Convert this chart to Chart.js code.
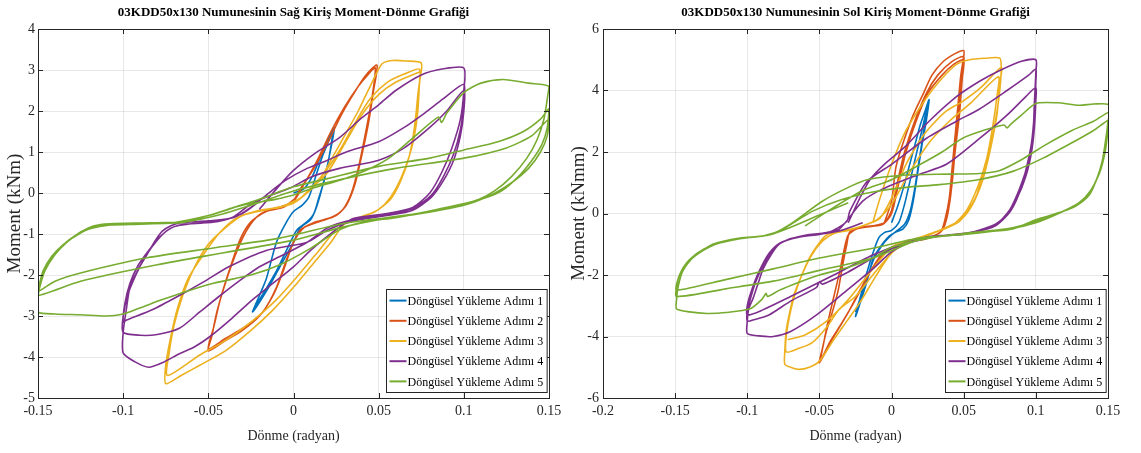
<!DOCTYPE html>
<html lang="tr">
<head>
<meta charset="UTF-8">
<title>03KDD50x130 Moment-Dönme Grafikleri</title>
<script src="https://cdn.jsdelivr.net/npm/chart.js@4.4.1/dist/chart.umd.min.js"></script>
<style>
  html, body { margin: 0; padding: 0; background: #fff; }
  .sahne { position: relative; width: 1141px; height: 453px; overflow: hidden; }
  .panel { position: absolute; top: 0; height: 453px; }
  #sagPanel { left: 0; width: 570px; }
  #solPanel { left: 570px; width: 571px; }
</style>
</head>
<body>
<div class="sahne">
  <div class="panel" id="sagPanel"><canvas id="sagGrafik"></canvas></div>
  <div class="panel" id="solPanel"><canvas id="solGrafik"></canvas></div>
</div>
<script>
// Adım etiketleri
const adimEtiketleri = [
  "Döngüsel Yükleme Adımı 1",
  "Döngüsel Yükleme Adımı 2",
  "Döngüsel Yükleme Adımı 3",
  "Döngüsel Yükleme Adımı 4",
  "Döngüsel Yükleme Adımı 5",
];

// Eksen tik değerleri
const sagXTikleri = [-0.15, -0.1, -0.05, 0, 0.05, 0.1, 0.15];
const sagYTikleri = [-5, -4, -3, -2, -1, 0, 1, 2, 3, 4];
const solXTikleri = [-0.2, -0.15, -0.1, -0.05, 0, 0.05, 0.1, 0.15];
const solYTikleri = [-6, -4, -2, 0, 2, 4, 6];

// Sağ kiriş: [dönme, moment]
const sagAdim1 = [[0,0],[0.006,0.1],[0.011,0.4],[0.015,0.8],[0.019,1.2],[0.024,1.6],
  [0.022,1.1],[0.019,0.5],[0.016,0],[0.013,-0.4],[0.01,-0.65],[0.004,-0.85],[0,-1.2],[-0.008,-1.8],[-0.016,-2.4],[-0.024,-2.9],
  [-0.02,-2.5],[-0.016,-2.1],[-0.01,-1.2],[-0.004,-0.7],[0,-0.45],[0.005,-0.3],[0.009,-0.1],[0.013,0.4],[0.017,0.9],[0.021,1.3],[0.023,1.5],
  [0.021,0.9],[0.018,0.3],[0.015,-0.1],[0.012,-0.5],[0.008,-0.7],[0.002,-0.9],[-0.003,-1.3],[-0.01,-1.9],[-0.017,-2.4],[-0.023,-2.8]];

const sagAdim2 = [[0,-0.2],[0.004,0.1],[0.012,0.6],[0.021,1.3],[0.028,1.9],[0.035,2.4],[0.042,2.85],[0.049,3.12],
  [0.047,2.5],[0.044,1.7],[0.04,0.9],[0.036,0.2],[0.031,-0.3],[0.025,-0.55],[0.015,-0.7],[0.006,-0.85],[0,-1.2],[-0.006,-1.9],[-0.012,-2.5],[-0.02,-3.0],[-0.03,-3.35],[-0.04,-3.6],[-0.05,-3.85],
  [-0.048,-3.5],[-0.045,-2.9],[-0.04,-2.2],[-0.034,-1.5],[-0.028,-0.95],[-0.022,-0.6],[-0.015,-0.42],[-0.007,-0.33],[0,-0.2],[0.006,0.2],[0.014,0.8],[0.022,1.5],[0.03,2.1],[0.038,2.6],[0.044,2.9],[0.048,3.05],
  [0.046,2.3],[0.042,1.4],[0.038,0.6],[0.034,0],[0.029,-0.4],[0.022,-0.6],[0.012,-0.72],[0.004,-0.9],[-0.003,-1.5],[-0.01,-2.3],[-0.018,-2.9],[-0.028,-3.25],[-0.04,-3.55],[-0.05,-3.8],
  [-0.047,-3.3],[-0.043,-2.6],[-0.037,-1.8],[-0.031,-1.1],[-0.025,-0.7],[-0.016,-0.45],[-0.006,-0.35],[0.002,-0.1]];

const sagAdim3 = [[-0.005,-0.3],[0.005,-0.1],[0.015,0.3],[0.022,0.8],[0.03,1.4],[0.038,2.0],[0.045,2.6],[0.052,3.15],[0.058,3.23],[0.066,3.22],[0.075,3.17],
  [0.074,2.7],[0.073,2.0],[0.071,1.4],[0.068,0.9],[0.063,0.35],[0.057,-0.1],[0.05,-0.4],[0.04,-0.6],[0.03,-0.75],[0.022,-1.2],[0.012,-1.7],[0,-2.3],[-0.012,-2.85],[-0.025,-3.35],[-0.04,-3.85],[-0.055,-4.2],[-0.066,-4.45],[-0.075,-4.65],
  [-0.075,-4.2],[-0.072,-3.5],[-0.068,-2.8],[-0.062,-2.1],[-0.052,-1.45],[-0.043,-0.95],[-0.033,-0.6],[-0.02,-0.42],[-0.008,-0.35],[0.002,-0.2],[0.012,0.2],[0.02,0.6],[0.028,1.1],[0.036,1.7],[0.045,2.3],[0.055,2.7],[0.065,2.9],[0.074,3.02],
  [0.073,2.4],[0.071,1.6],[0.068,0.9],[0.063,0.3],[0.057,-0.15],[0.048,-0.45],[0.035,-0.65],[0.025,-0.9],[0.015,-1.4],[0.003,-2.0],[-0.01,-2.6],[-0.025,-3.15],[-0.04,-3.6],[-0.055,-3.95],[-0.074,-4.45],
  [-0.073,-3.9],[-0.07,-3.2],[-0.065,-2.5],[-0.058,-1.8],[-0.05,-1.25],[-0.04,-0.85],[-0.03,-0.55],[-0.015,-0.4],[0,-0.25],[0.01,0.1],[0.02,0.5],[0.03,1.2],[0.04,1.9],[0.05,2.4],[0.06,2.7],[0.074,2.95]];

const sagAdim4 = [[-0.02,-0.4],[-0.01,0.1],[0,0.55],[0.012,0.95],[0.027,1.35],[0.04,1.83],[0.05,2.15],[0.06,2.5],[0.075,2.88],[0.088,3.03],[0.1,3.05],
  [0.1,2.5],[0.098,1.8],[0.093,1.1],[0.087,0.5],[0.08,0],[0.07,-0.35],[0.055,-0.5],[0.035,-0.62],[0.028,-0.8],[0.02,-1.05],[0.01,-1.4],[0,-1.8],[-0.012,-2.2],[-0.024,-2.6],[-0.036,-3.05],[-0.049,-3.5],[-0.058,-3.75],[-0.067,-3.92],[-0.076,-4.12],[-0.085,-4.25],[-0.093,-4.12],[-0.1,-3.9],
  [-0.1,-3.4],[-0.098,-2.8],[-0.096,-2.3],[-0.091,-1.85],[-0.086,-1.5],[-0.081,-1.15],[-0.077,-0.93],[-0.072,-0.8],[-0.067,-0.73],[-0.05,-0.68],[-0.035,-0.6],[-0.025,-0.35],[-0.016,-0.05],[-0.005,0.3],[0.008,0.6],[0.02,0.8],[0.031,1.0],[0.05,1.25],[0.065,1.6],[0.077,1.95],[0.088,2.3],[0.1,2.65],
  [0.1,2.2],[0.098,1.55],[0.094,0.95],[0.088,0.4],[0.081,-0.05],[0.07,-0.38],[0.055,-0.52],[0.035,-0.65],[0.02,-0.85],[0.008,-1.2],[-0.008,-1.55],[-0.02,-1.8],[-0.032,-2.15],[-0.043,-2.5],[-0.055,-2.9],[-0.067,-3.3],[-0.08,-3.45],[-0.09,-3.47],[-0.1,-3.4],
  [-0.1,-3.0],[-0.097,-2.45],[-0.092,-1.95],[-0.087,-1.55],[-0.08,-1.15],[-0.073,-0.88],[-0.065,-0.77],[-0.05,-0.72],[-0.036,-0.6],[-0.026,-0.3],[-0.016,-0.1],[-0.002,0.12],[0.011,0.4],[0.027,0.6],[0.05,0.8],[0.065,1.1],[0.08,1.6],[0.09,2.0],[0.1,2.5],
  [0.1,2.0],[0.098,1.4],[0.094,0.8],[0.088,0.3],[0.081,-0.1],[0.07,-0.42],[0.055,-0.55],[0.035,-0.68],[0.02,-0.9],[0.008,-1.2],[-0.016,-1.4],[-0.038,-1.8],[-0.052,-2.15],[-0.067,-2.5],[-0.083,-2.85],[-0.098,-3.1],[-0.1,-3.15],
  [-0.099,-2.7],[-0.096,-2.2],[-0.091,-1.75],[-0.085,-1.4],[-0.078,-1.05],[-0.07,-0.82],[-0.06,-0.75],[-0.045,-0.7],[-0.03,-0.5],[-0.02,-0.2]];

const sagAdim5 = [[0,-0.05],[0.01,0.1],[0.03,0.35],[0.045,0.6],[0.056,0.85],[0.07,1.34],[0.085,1.85],[0.087,1.72],[0.09,1.95],[0.1,2.45],[0.11,2.68],[0.123,2.77],[0.138,2.68],[0.15,2.6],
  [0.149,2.3],[0.147,1.8],[0.143,1.3],[0.137,0.85],[0.128,0.4],[0.118,0.05],[0.109,-0.15],[0.095,-0.32],[0.08,-0.45],[0.06,-0.6],[0.04,-0.72],[0.027,-0.9],[0.01,-1.35],[-0.008,-1.75],[-0.025,-2.0],[-0.047,-2.2],[-0.063,-2.4],[-0.077,-2.6],[-0.09,-2.8],[-0.1,-2.95],[-0.11,-3.0],[-0.125,-2.97],[-0.14,-2.95],[-0.15,-2.9],
  [-0.15,-2.5],[-0.148,-2.1],[-0.145,-1.8],[-0.14,-1.5],[-0.133,-1.2],[-0.125,-0.95],[-0.117,-0.8],[-0.108,-0.75],[-0.09,-0.73],[-0.075,-0.72],[-0.065,-0.7],[-0.05,-0.55],[-0.035,-0.35],[-0.02,-0.15],[0,0.15],[0.02,0.35],[0.05,0.65],[0.08,0.85],[0.1,1.05],[0.12,1.25],[0.135,1.5],[0.145,1.8],[0.15,2.05],
  [0.149,1.6],[0.146,1.2],[0.14,0.8],[0.132,0.4],[0.122,0.05],[0.11,-0.15],[0.09,-0.35],[0.07,-0.52],[0.045,-0.65],[0.027,-0.76],[-0.008,-1.1],[-0.047,-1.34],[-0.086,-1.58],[-0.125,-1.95],[-0.14,-2.15],[-0.15,-2.4],
  [-0.149,-2.2],[-0.147,-1.9],[-0.142,-1.55],[-0.135,-1.25],[-0.126,-1.0],[-0.118,-0.85],[-0.108,-0.78],[-0.09,-0.76],[-0.075,-0.74],[-0.065,-0.72],[-0.045,-0.55],[-0.025,-0.3],[0,0.05],[0.03,0.35],[0.06,0.6],[0.1,0.85],[0.125,1.1],[0.14,1.4],[0.15,1.8],
  [0.149,1.4],[0.145,1.0],[0.138,0.6],[0.128,0.25],[0.116,-0.05],[0.1,-0.3],[0.075,-0.5],[0.05,-0.65],[0.027,-0.85],[0,-1.15],[-0.04,-1.45],[-0.08,-1.75],[-0.125,-2.15],[-0.15,-2.5],
  [-0.149,-2.3],[-0.146,-1.9],[-0.14,-1.5],[-0.132,-1.15],[-0.12,-0.88],[-0.105,-0.77],[-0.085,-0.74],[-0.07,-0.72],[-0.05,-0.55],[-0.03,-0.3],[-0.01,-0.15],[0,-0.05]];

// Sol kiriş: [dönme, moment]
const solAdim1 = [[0,-0.3],[0.004,0.2],[0.008,0.8],[0.012,1.5],[0.016,2.2],[0.02,2.9],[0.023,3.3],[0.026,3.7],
  [0.024,3.0],[0.021,2.2],[0.018,1.3],[0.015,0.4],[0.012,-0.2],[0.008,-0.5],[0.003,-0.6],[-0.002,-0.75],[-0.008,-1.1],[-0.013,-1.5],[-0.017,-2.2],[-0.021,-2.8],[-0.025,-3.35],
  [-0.021,-2.6],[-0.017,-1.9],[-0.013,-1.3],[-0.009,-0.8],[-0.005,-0.62],[0,-0.55],[0.005,-0.3],[0.009,0.3],[0.013,1.1],[0.017,1.9],[0.021,2.7],[0.025,3.5],
  [0.022,2.6],[0.019,1.7],[0.016,0.8],[0.013,0.1],[0.009,-0.35],[0.004,-0.55],[0,-0.7],[-0.006,-1.0],[-0.012,-1.45],[-0.017,-2.1],[-0.022,-2.8],[-0.025,-3.2]];

const solAdim2 = [[-0.005,-0.3],[0,0.4],[0.003,1.5],[0.008,2.3],[0.015,3.2],[0.022,3.9],[0.028,4.5],[0.036,4.95],[0.044,5.2],[0.05,5.3],
  [0.05,5.1],[0.048,4.5],[0.046,3.5],[0.044,2.5],[0.042,1.5],[0.04,0.5],[0.037,-0.2],[0.034,-0.6],[0.025,-0.8],[0.015,-0.9],[0.005,-1.0],[-0.005,-1.3],[-0.013,-1.75],[-0.022,-2.5],[-0.031,-3.3],[-0.04,-4.0],[-0.05,-4.85],
  [-0.048,-4.4],[-0.045,-3.8],[-0.041,-3.2],[-0.037,-2.5],[-0.034,-1.7],[-0.031,-1.0],[-0.029,-0.6],[-0.022,-0.45],[-0.013,-0.4],[-0.005,-0.3],[0,0.1],[0.004,1.0],[0.009,2.0],[0.016,3.0],[0.024,3.9],[0.032,4.5],[0.042,4.95],[0.05,5.1],
  [0.049,4.6],[0.047,3.6],[0.045,2.6],[0.043,1.6],[0.041,0.6],[0.038,-0.2],[0.034,-0.6],[0.024,-0.82],[0.012,-0.92],[0.002,-1.05],[-0.008,-1.4],[-0.016,-2.0],[-0.025,-2.8],[-0.035,-3.6],[-0.043,-4.2],[-0.049,-4.75],
  [-0.047,-4.2],[-0.044,-3.5],[-0.04,-2.7],[-0.036,-1.9],[-0.033,-1.2],[-0.03,-0.7],[-0.024,-0.5],[-0.014,-0.42],[-0.006,-0.35],[0,0],[0.005,1.0],[0.01,2.0],[0.017,3.0],[0.025,3.9],[0.035,4.5],[0.043,4.85],[0.05,5.0],
  [0.049,4.4],[0.047,3.2],[0.044,2.0],[0.042,1.0],[0.039,0],[0.035,-0.55],[0.025,-0.8],[0.01,-0.95],[0,-1.1]];

const solAdim3 = [[-0.013,-0.3],[-0.008,0.5],[0,1.6],[0.01,2.7],[0.024,3.75],[0.035,4.4],[0.045,4.85],[0.054,5.0],[0.065,5.05],[0.075,5.05],
  [0.076,4.7],[0.075,4.0],[0.073,3.3],[0.07,2.5],[0.066,1.7],[0.062,1.1],[0.059,0.6],[0.053,0.1],[0.047,-0.26],[0.037,-0.5],[0.026,-0.68],[0.015,-0.85],[0.005,-1.0],[-0.005,-1.6],[-0.013,-2.2],[-0.022,-2.9],[-0.031,-3.5],[-0.04,-4.1],[-0.05,-4.8],[-0.057,-5.0],[-0.064,-5.07],[-0.07,-5.0],[-0.074,-4.9],
  [-0.074,-4.5],[-0.073,-3.8],[-0.071,-3.3],[-0.068,-2.7],[-0.064,-2.2],[-0.057,-1.45],[-0.05,-0.95],[-0.045,-0.7],[-0.037,-0.58],[-0.027,-0.5],[-0.017,-0.35],[-0.008,-0.15],[0,0.5],[0.01,1.6],[0.02,2.4],[0.026,2.77],[0.037,3.3],[0.049,3.64],[0.062,4.1],[0.076,4.75],
  [0.075,4.2],[0.073,3.2],[0.069,2.2],[0.065,1.4],[0.061,0.8],[0.055,0.2],[0.048,-0.2],[0.038,-0.45],[0.026,-0.7],[0.013,-0.9],[0.002,-1.2],[-0.013,-2.0],[-0.025,-2.7],[-0.036,-3.1],[-0.045,-3.7],[-0.055,-4.2],[-0.065,-4.4],[-0.073,-4.5],
  [-0.073,-4.0],[-0.071,-3.4],[-0.068,-2.8],[-0.063,-2.1],[-0.056,-1.4],[-0.048,-0.9],[-0.04,-0.65],[-0.03,-0.55],[-0.02,-0.4],[-0.01,-0.2],[0,0.3],[0.012,1.3],[0.026,2.3],[0.04,3.0],[0.055,3.6],[0.074,4.45],
  [0.073,3.8],[0.07,2.8],[0.066,1.8],[0.06,0.9],[0.052,0.1],[0.043,-0.35],[0.03,-0.6],[0.015,-0.85],[0,-1.1],[-0.013,-1.8],[-0.03,-2.8],[-0.045,-3.5],[-0.06,-3.95],[-0.072,-4.1]];

const solAdim4 = [[-0.03,-0.3],[-0.022,0.5],[-0.015,1.1],[-0.005,1.6],[0.01,2.2],[0.026,3.0],[0.045,3.8],[0.061,4.3],[0.075,4.65],[0.09,4.95],[0.1,5.0],
  [0.1,4.6],[0.099,3.6],[0.098,2.6],[0.095,1.7],[0.091,1.1],[0.086,0.5],[0.081,0.05],[0.072,-0.35],[0.06,-0.55],[0.049,-0.68],[0.026,-0.75],[0.012,-0.95],[0,-1.25],[-0.013,-1.8],[-0.031,-2.5],[-0.052,-3.3],[-0.07,-3.84],[-0.082,-4.0],[-0.092,-3.98],[-0.1,-3.9],
  [-0.1,-3.5],[-0.099,-3.1],[-0.096,-2.76],[-0.092,-2.2],[-0.089,-1.8],[-0.083,-1.3],[-0.078,-1.0],[-0.068,-0.8],[-0.059,-0.7],[-0.043,-0.6],[-0.031,-0.26],[-0.029,0.07],[-0.017,1.04],[0,1.6],[0.024,2.44],[0.045,3.0],[0.061,3.4],[0.08,4.0],[0.095,4.5],[0.1,4.7],
  [0.1,4.3],[0.099,3.3],[0.097,2.3],[0.093,1.4],[0.088,0.6],[0.082,0.05],[0.072,-0.4],[0.055,-0.62],[0.035,-0.72],[0.02,-0.85],[0.005,-1.05],[-0.013,-1.45],[-0.03,-1.9],[-0.048,-2.3],[-0.05,-2.22],[-0.052,-2.4],[-0.07,-2.85],[-0.085,-3.3],[-0.095,-3.45],[-0.1,-3.5],
  [-0.1,-3.2],[-0.098,-2.8],[-0.094,-2.2],[-0.088,-1.6],[-0.081,-1.1],[-0.072,-0.85],[-0.06,-0.73],[-0.045,-0.62],[-0.036,-0.5],[-0.02,0.4],[-0.006,0.8],[0.019,1.27],[0.038,1.6],[0.061,2.44],[0.08,3.2],[0.093,3.8],[0.1,4.1],
  [0.1,3.7],[0.099,2.8],[0.097,2.0],[0.093,1.2],[0.087,0.5],[0.08,0],[0.07,-0.45],[0.05,-0.65],[0.03,-0.75],[0.01,-0.95],[-0.013,-1.35],[-0.04,-2.0],[-0.07,-2.7],[-0.09,-3.15],[-0.1,-3.3],
  [-0.1,-3.0],[-0.097,-2.5],[-0.092,-1.9],[-0.085,-1.3],[-0.077,-0.95],[-0.065,-0.78],[-0.05,-0.68],[-0.035,-0.55],[-0.02,-0.3]];

const solAdim5 = [[-0.06,-0.4],[-0.04,0.2],[-0.02,0.75],[0,1.1],[0.02,1.6],[0.035,2.0],[0.049,2.44],[0.065,2.72],[0.078,2.88],[0.08,2.78],[0.083,2.92],[0.09,3.2],[0.1,3.58],[0.115,3.6],[0.13,3.52],[0.14,3.56],[0.15,3.55],
  [0.151,3.3],[0.149,2.6],[0.146,1.7],[0.142,1.1],[0.137,0.6],[0.128,0.25],[0.119,0.07],[0.1,-0.2],[0.084,-0.5],[0.065,-0.6],[0.049,-0.68],[0.026,-0.8],[0,-1.1],[-0.013,-1.45],[-0.03,-1.75],[-0.05,-2.0],[-0.065,-2.25],[-0.078,-2.5],[-0.086,-2.7],[-0.087,-2.6],[-0.09,-2.8],[-0.098,-3.1],[-0.115,-3.22],[-0.128,-3.25],[-0.14,-3.2],[-0.149,-3.1],
  [-0.149,-2.8],[-0.148,-2.4],[-0.145,-1.9],[-0.14,-1.55],[-0.135,-1.34],[-0.124,-1.0],[-0.105,-0.8],[-0.085,-0.7],[-0.071,-0.37],[-0.048,0.4],[-0.03,0.85],[-0.017,1.1],[0.01,1.25],[0.04,1.28],[0.061,1.3],[0.075,1.4],[0.09,1.75],[0.107,2.24],[0.125,2.7],[0.14,3.0],[0.151,3.3],
  [0.15,3.0],[0.148,2.2],[0.145,1.5],[0.14,0.9],[0.133,0.45],[0.12,0.1],[0.1,-0.25],[0.08,-0.5],[0.05,-0.65],[0.019,-0.85],[-0.013,-1.45],[-0.05,-1.85],[-0.082,-2.2],[-0.115,-2.45],[-0.149,-2.7],
  [-0.149,-2.4],[-0.147,-2.0],[-0.142,-1.6],[-0.134,-1.3],[-0.122,-1.0],[-0.105,-0.82],[-0.088,-0.72],[-0.075,-0.5],[-0.055,0.07],[-0.035,0.45],[-0.013,0.7],[0.01,0.85],[0.033,0.94],[0.06,1.1],[0.084,1.37],[0.105,1.8],[0.125,2.3],[0.14,2.7],[0.151,3.05],
  [0.15,2.7],[0.148,2.0],[0.144,1.3],[0.138,0.75],[0.13,0.35],[0.118,0.05],[0.1,-0.3],[0.08,-0.52],[0.05,-0.68],[0.019,-0.8],[-0.013,-1.13],[-0.05,-1.45],[-0.082,-1.8],[-0.115,-2.15],[-0.149,-2.5],
  [-0.149,-2.3],[-0.146,-1.9],[-0.14,-1.5],[-0.13,-1.15],[-0.115,-0.9],[-0.1,-0.78],[-0.085,-0.7],[-0.07,-0.45],[-0.05,-0.05],[-0.03,0.35]];

// MATLAB varsayılan renkleri
const renkler = ["#0072BD", "#D95319", "#EDB120", "#7E2F8E", "#77AC30"];
const yaziTipi = '"Liberation Serif", "Times New Roman", serif';
const eksenRengi = "#262626";

// Çerçeve, iç tikler, başlık ve lejant
const cerceveEklentisi = {
  id: "cerceve",
  afterDraw(chart, args, opts) {
    const { ctx, chartArea: a, scales } = chart;
    const x = scales.x;
    const y = scales.y;
    ctx.save();
    ctx.strokeStyle = eksenRengi;
    ctx.lineWidth = 1;
    ctx.strokeRect(Math.round(a.left) + 0.5, Math.round(a.top) + 0.5,
      Math.round(a.right - a.left), Math.round(a.bottom - a.top));

    // iç tik çizgileri
    ctx.beginPath();
    x.ticks.forEach((t) => {
      const px = Math.round(x.getPixelForValue(t.value)) + 0.5;
      ctx.moveTo(px, a.bottom); ctx.lineTo(px, a.bottom - 5);
      ctx.moveTo(px, a.top); ctx.lineTo(px, a.top + 5);
    });
    y.ticks.forEach((t) => {
      const py = Math.round(y.getPixelForValue(t.value)) + 0.5;
      ctx.moveTo(a.left, py); ctx.lineTo(a.left + 5, py);
      ctx.moveTo(a.right, py); ctx.lineTo(a.right - 5, py);
    });
    ctx.stroke();

    // başlık
    ctx.fillStyle = "#000";
    ctx.font = "bold 13px " + yaziTipi;
    ctx.textAlign = "center";
    ctx.textBaseline = "middle";
    ctx.fillText(opts.baslik, (a.left + a.right) / 2, 13);

    // lejant (sağ alt köşe)
    ctx.font = "12px " + yaziTipi;
    const etiketler = chart.data.datasets.map((d) => d.label);
    const metinW = Math.max(...etiketler.map((t) => ctx.measureText(t).width));
    const satir = 20.2;
    const kutuW = metinW + 25;
    const kutuH = satir * etiketler.length + 2;
    const kx = Math.round(a.right - 2 - kutuW) + 0.5;
    const ky = Math.round(a.bottom - 6 - kutuH) + 0.5;
    ctx.fillStyle = "#fff";
    ctx.fillRect(kx, ky, kutuW, kutuH);
    ctx.strokeStyle = eksenRengi;
    ctx.strokeRect(kx, ky, kutuW, kutuH);
    ctx.textAlign = "left";
    chart.data.datasets.forEach((d, i) => {
      const yy = ky + 1 + satir * (i + 0.5);
      ctx.strokeStyle = d.borderColor;
      ctx.lineWidth = 2;
      ctx.beginPath();
      ctx.moveTo(kx + 3, yy);
      ctx.lineTo(kx + 20, yy);
      ctx.stroke();
      ctx.fillStyle = "#000";
      ctx.fillText(d.label, kx + 21, yy + 1);
    });
    ctx.restore();
  },
};

function grafikKur(canvasId, baslik, yBaslik, adimlar, xTikleri, yTikleri, yerlesim) {
  const veriSetleri = adimlar.map((noktalar, i) => ({
    label: adimEtiketleri[i],
    data: noktalar.map((p) => ({ x: p[0], y: p[1] })),
    borderColor: renkler[i],
    backgroundColor: renkler[i],
    borderWidth: 1.6,
    pointRadius: 0,
    showLine: true,
    tension: 0.25,
    fill: false,
    order: adimlar.length - i,
  }));

  const tikYazisi = { family: yaziTipi, size: 14 };

  return new Chart(document.getElementById(canvasId), {
    type: "scatter",
    data: { datasets: veriSetleri },
    plugins: [cerceveEklentisi],
    options: {
      responsive: true,
      maintainAspectRatio: false,
      animation: false,
      layout: { padding: { top: 29, right: yerlesim.sagBosluk, bottom: 0, left: 0 } },
      plugins: {
        legend: { display: false },
        tooltip: { enabled: false },
        cerceve: { baslik: baslik },
      },
      scales: {
        x: {
          type: "linear",
          min: xTikleri[0],
          max: xTikleri[xTikleri.length - 1],
          afterBuildTicks: (s) => { s.ticks = xTikleri.map((v) => ({ value: v })); },
          afterFit: (s) => { s.height = 55; },
          grid: { color: "rgba(0,0,0,0.09)", drawTicks: false },
          border: { color: eksenRengi },
          ticks: { padding: 5, color: eksenRengi, font: tikYazisi, maxRotation: 0, autoSkip: false, callback: (v) => String(v) },
          title: { display: true, text: "Dönme (radyan)", color: eksenRengi, font: tikYazisi, padding: { top: 0, bottom: 8 } },
        },
        y: {
          type: "linear",
          min: yTikleri[0],
          max: yTikleri[yTikleri.length - 1],
          afterBuildTicks: (s) => { s.ticks = yTikleri.map((v) => ({ value: v })); },
          afterFit: (s) => { s.width = yerlesim.yGenislik; },
          grid: { color: "rgba(0,0,0,0.09)", drawTicks: false },
          border: { color: eksenRengi },
          ticks: { padding: yerlesim.yTikBosluk, color: eksenRengi, font: tikYazisi, autoSkip: false, callback: (v) => String(v) },
          title: { display: true, text: yBaslik, color: eksenRengi, font: { family: yaziTipi, size: 19 }, padding: { top: yerlesim.yBaslikBosluk, bottom: 0 } },
        },
      },
    },
  });
}

grafikKur("sagGrafik", "03KDD50x130 Numunesinin Sağ Kiriş Moment-Dönme Grafiği", "Moment (kNm)",
  [sagAdim1, sagAdim2, sagAdim3, sagAdim4, sagAdim5], sagXTikleri, sagYTikleri,
  { sagBosluk: 21, yGenislik: 38, yTikBosluk: 3, yBaslikBosluk: 4 });

grafikKur("solGrafik", "03KDD50x130 Numunesinin Sol Kiriş Moment-Dönme Grafiği", "Moment (kNmm)",
  [solAdim1, solAdim2, solAdim3, solAdim4, solAdim5], solXTikleri, solYTikleri,
  { sagBosluk: 33, yGenislik: 33, yTikBosluk: 4, yBaslikBosluk: -2 });
</script>
</body>
</html>
